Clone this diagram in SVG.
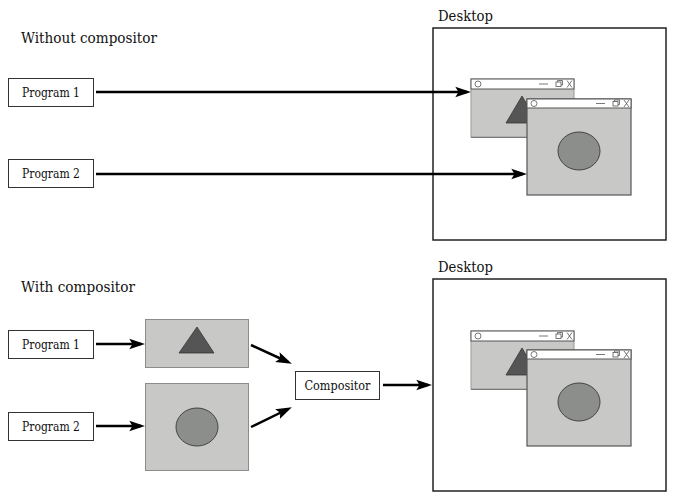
<svg xmlns="http://www.w3.org/2000/svg" xmlns:xlink="http://www.w3.org/1999/xlink" width="675" height="503" viewBox="0 0 675 503">
<style>
  .head { font-size: 14.5px; fill: #111; }
  .lbl { font-size: 12.5px; fill: #111; text-anchor: middle; }
  .box { fill: #fff; stroke: #333; stroke-width: 1; }
  .desk { fill: #fff; stroke: #222; stroke-width: 1.5; }
  .layer { fill: #c8c9c6; stroke: #8c8c8c; stroke-width: 1; }
  .body { fill: #c8c9c6; }
  .title { fill: #fff; stroke: #555; stroke-width: 1; }
  .ico { fill: none; stroke: #555; stroke-width: 0.8; }
  .tri { fill: #555; stroke: #333; stroke-width: 0.8; }
  .circ { fill: #8b8e8a; stroke: #444; stroke-width: 1; }
  .conn { stroke: #000; stroke-width: 2.5; fill: none; marker-end: url(#arr); }
</style>
<defs>
  <marker id="arr" markerUnits="userSpaceOnUse" markerWidth="16" markerHeight="12" viewBox="0 0 15 10" refX="11" refY="5" orient="auto">
    <path d="M0,0 L15,5 L0,10 L3,5 z" fill="#000"/>
  </marker>
  <g id="winA">
    <rect class="body" x="0" y="0" width="103" height="58" stroke="#999" stroke-width="1"/>
    <line x1="0" y1="58.5" x2="103" y2="58.5" stroke="#777" stroke-width="1"/>
    <rect class="title" x="0" y="0" width="103" height="10"/>
    <circle class="ico" cx="7" cy="5" r="3"/>
    <line class="ico" x1="68" y1="5" x2="77" y2="5"/>
    <rect class="ico" x="85" y="3" width="5" height="4.5"/>
    <polyline class="ico" points="86.5,3 86.5,1.5 91.5,1.5 91.5,6 90,6"/>
    <path class="ico" d="M96,1.5 L101,8.5 M101,1.5 L96,8.5"/>
    <polygon class="tri" points="51,17 35,44 67,44"/>
  </g>
  <g id="winB">
    <rect class="body" x="0" y="0" width="104" height="96" stroke="#555" stroke-width="1.2"/>
    <rect class="title" x="0" y="0" width="104" height="9"/>
    <circle class="ico" cx="7" cy="4.5" r="3"/>
    <line class="ico" x1="69" y1="4.5" x2="78" y2="4.5"/>
    <rect class="ico" x="86" y="2.5" width="5" height="4.5"/>
    <polyline class="ico" points="87.5,2.5 87.5,1 92.5,1 92.5,5.5 91,5.5"/>
    <path class="ico" d="M97,1 L102,8 M102,1 L97,8"/>
    <ellipse class="circ" cx="52" cy="52" rx="21" ry="19"/>
  </g>
</defs>

<text class="head" font-family="DejaVu Serif, Liberation Serif, serif" x="21" y="43" textLength="136" lengthAdjust="spacingAndGlyphs">Without compositor</text>
<text class="head" font-family="DejaVu Serif, Liberation Serif, serif" x="21" y="292" textLength="114" lengthAdjust="spacingAndGlyphs">With compositor</text>

<g id="desktop-top">
  <text class="head" font-family="DejaVu Serif, Liberation Serif, serif" x="438" y="21" textLength="55" lengthAdjust="spacingAndGlyphs">Desktop</text>
  <rect class="desk" x="433" y="28" width="233" height="212"/>
  <use xlink:href="#winA" x="471" y="79"/>
  <use xlink:href="#winB" x="527" y="99"/>
</g>

<g id="desktop-bottom">
  <text class="head" font-family="DejaVu Serif, Liberation Serif, serif" x="438" y="272" textLength="55" lengthAdjust="spacingAndGlyphs">Desktop</text>
  <rect class="desk" x="433" y="279" width="233" height="212"/>
  <use xlink:href="#winA" x="471" y="331"/>
  <use xlink:href="#winB" x="527" y="350"/>
</g>

<g id="program1-top">
  <rect class="box" x="8.5" y="78.5" width="85" height="28"/>
  <text class="lbl" font-family="DejaVu Serif, Liberation Serif, serif" x="51" y="97" textLength="58" lengthAdjust="spacingAndGlyphs">Program 1</text>
</g>
<g id="program2-top">
  <rect class="box" x="8.5" y="159.5" width="85" height="28"/>
  <text class="lbl" font-family="DejaVu Serif, Liberation Serif, serif" x="51" y="178" textLength="58" lengthAdjust="spacingAndGlyphs">Program 2</text>
</g>
<g id="program1-bottom">
  <rect class="box" x="8.5" y="330.5" width="85" height="28"/>
  <text class="lbl" font-family="DejaVu Serif, Liberation Serif, serif" x="51" y="349" textLength="58" lengthAdjust="spacingAndGlyphs">Program 1</text>
</g>
<g id="program2-bottom">
  <rect class="box" x="8.5" y="412.5" width="85" height="28"/>
  <text class="lbl" font-family="DejaVu Serif, Liberation Serif, serif" x="51" y="431" textLength="58" lengthAdjust="spacingAndGlyphs">Program 2</text>
</g>

<g id="layer1">
  <rect class="layer" x="145.5" y="319.5" width="103" height="48"/>
  <polygon class="tri" points="197,327 179,353 214,353"/>
</g>
<g id="layer2">
  <rect class="layer" x="145.5" y="383.5" width="103" height="87"/>
  <ellipse class="circ" cx="197" cy="427" rx="21" ry="19"/>
</g>

<g id="compositor">
  <rect class="box" x="295.5" y="371.5" width="84" height="28"/>
  <text class="lbl" font-family="DejaVu Serif, Liberation Serif, serif" x="337.5" y="390" textLength="66" lengthAdjust="spacingAndGlyphs">Compositor</text>
</g>

<g id="connectors">
  <line class="conn" x1="96" y1="92" x2="467" y2="92"/>
  <line class="conn" x1="96" y1="174" x2="523" y2="174"/>
  <line class="conn" x1="96" y1="344" x2="141" y2="344"/>
  <line class="conn" x1="96" y1="426" x2="141" y2="426"/>
  <line class="conn" x1="251" y1="345" x2="288" y2="362"/>
  <line class="conn" x1="251" y1="427" x2="288" y2="409"/>
  <line class="conn" x1="383" y1="385" x2="428" y2="385"/>
</g>
</svg>
